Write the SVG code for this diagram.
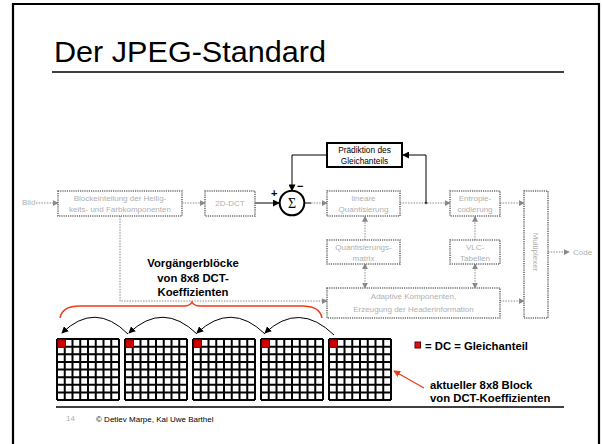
<svg xmlns="http://www.w3.org/2000/svg" width="602" height="444" viewBox="0 0 602 444">
<style>
.gbox{fill:#fff;stroke:#6e6e6e;stroke-width:1.6;stroke-dasharray:1.2 1}
.gtxt{font-family:"Liberation Sans",Arial,sans-serif;font-size:8px;fill:#b0b0b0;text-anchor:middle}
.gline{fill:none;stroke:#8a8a8a;stroke-width:1;stroke-dasharray:1.5 1.2}
.bline{fill:none;stroke:#000;stroke-width:1}
.btxt{font-family:"Liberation Sans",Arial,sans-serif;font-weight:bold;font-size:11.3px;fill:#000}
</style>
<defs>
<marker id="ga" viewBox="0 0 8 8" refX="7" refY="4" markerWidth="6" markerHeight="6" orient="auto" markerUnits="userSpaceOnUse"><path d="M0 0L8 4L0 8z" fill="#888"/></marker>
<marker id="gas" viewBox="0 0 8 8" refX="1" refY="4" markerWidth="6" markerHeight="6" orient="auto" markerUnits="userSpaceOnUse"><path d="M8 0L0 4L8 8z" fill="#888"/></marker>
<marker id="ba" viewBox="0 0 8 8" refX="7" refY="4" markerWidth="7" markerHeight="7" orient="auto" markerUnits="userSpaceOnUse"><path d="M0 0L8 4L0 8z" fill="#000"/></marker>
<marker id="ra" viewBox="0 0 8 8" refX="7" refY="4" markerWidth="7" markerHeight="7" orient="auto" markerUnits="userSpaceOnUse"><path d="M0 0L8 4L0 8z" fill="#f03a1a"/></marker>
<g id="grid">
<rect width="62" height="61" fill="#fff"/>
<path d="M0 0V61M7.75 0V61M15.5 0V61M23.25 0V61M31 0V61M38.75 0V61M46.5 0V61M54.25 0V61M62 0V61M0 0H62M0 7.625H62M0 15.25H62M0 22.875H62M0 30.5H62M0 38.125H62M0 45.75H62M0 53.375H62M0 61H62" stroke="#000" stroke-width="2" fill="none"/>
<rect x="0.8" y="0.8" width="7.6" height="7.4" fill="#d40000" stroke="#700" stroke-width="0.8"/>
</g>
</defs>
<rect width="602" height="444" fill="#fff"/>
<!-- slide frame -->
<path d="M13 446V4H599V446" fill="none" stroke="#000" stroke-width="2.2"/>
<text x="54" y="62" font-family="Liberation Sans,Arial,sans-serif" font-size="29" fill="#000" textLength="272" lengthAdjust="spacingAndGlyphs">Der JPEG-Standard</text>
<line x1="52" y1="72" x2="564" y2="72" stroke="#000" stroke-width="1.3"/>

<!-- connectors -->
<g id="connectors">
<text x="22" y="205" font-family="Liberation Sans,Arial,sans-serif" font-size="8" fill="#b0b0b0">Bild</text>
<line class="gline" x1="36" y1="203" x2="58" y2="203" marker-end="url(#ga)"/>
<line class="gline" x1="182" y1="203" x2="205" y2="203" marker-end="url(#ga)"/>
<line class="bline" x1="255" y1="203" x2="279" y2="203" marker-end="url(#ba)"/>
<line class="bline" x1="304" y1="203" x2="311" y2="203"/>
<line class="gline" x1="311" y1="203" x2="327" y2="203" marker-end="url(#ga)"/>
<line class="gline" x1="400" y1="203" x2="450" y2="203" marker-end="url(#ga)"/>
<circle cx="426" cy="203" r="1.3" fill="#555"/>
<line class="gline" x1="500" y1="203" x2="524" y2="203" marker-end="url(#ga)"/>
<line class="gline" x1="548" y1="252" x2="569" y2="252" marker-end="url(#ga)"/>
<text x="573" y="255" font-family="Liberation Sans,Arial,sans-serif" font-size="8" fill="#b0b0b0">Code</text>
<!-- feedback -->
<path class="bline" d="M426 203V155H403" marker-end="url(#ba)"/>
<path class="bline" d="M327 155H292V190.5" marker-end="url(#ba)"/>
<text x="271" y="197" font-family="Liberation Sans,Arial,sans-serif" font-weight="bold" font-size="11" fill="#000">+</text>
<text x="297" y="190" font-family="Liberation Sans,Arial,sans-serif" font-weight="bold" font-size="11" fill="#000">−</text>
<!-- verticals -->
<line class="gline" x1="365" y1="240" x2="365" y2="216.5" marker-end="url(#ga)"/>
<line class="gline" x1="365" y1="264" x2="365" y2="288" marker-start="url(#gas)" marker-end="url(#ga)"/>
<line class="gline" x1="475" y1="240" x2="475" y2="216.5" marker-end="url(#ga)"/>
<line class="gline" x1="475" y1="264" x2="475" y2="288" marker-start="url(#gas)" marker-end="url(#ga)"/>
<path class="gline" d="M120 216V301H327" marker-end="url(#ga)"/>
<line class="gline" x1="500" y1="301" x2="524" y2="301" marker-end="url(#ga)"/>
<!-- brace and block arrows -->
<path d="M60 318Q62 306 80 306L184 306Q190 306 192 302Q194 306 200 306L302 306Q320 306 322 318" fill="none" stroke="#f03a1a" stroke-width="1.5"/>
<path d="M128 334Q95 301 62 333" fill="none" stroke="#000" stroke-width="1" marker-end="url(#ba)"/>
<path d="M197 334Q163 301 129 333" fill="none" stroke="#000" stroke-width="1" marker-end="url(#ba)"/>
<path d="M265 334Q231 301 197 333" fill="none" stroke="#000" stroke-width="1" marker-end="url(#ba)"/>
<path d="M334 335Q299 301 265 333" fill="none" stroke="#000" stroke-width="1" marker-end="url(#ba)"/>
<line x1="424" y1="388" x2="394" y2="371" stroke="#f03a1a" stroke-width="1.3" marker-end="url(#ra)"/>
</g>

<!-- nodes -->
<g id="blockeinteilung">
<rect class="gbox" x="58" y="191" width="124" height="25"/>
<text class="gtxt" x="120" y="201">Blockeinteilung der Hellig-</text>
<text class="gtxt" x="120" y="212">keits- und Farbkomponenten</text>
</g>
<g id="dct">
<rect class="gbox" x="205" y="191" width="50" height="25"/>
<text class="gtxt" x="230" y="206">2D-DCT</text>
</g>
<g id="summe">
<circle cx="292" cy="203" r="12.3" fill="#fff" stroke="#000" stroke-width="2"/>
<text x="292" y="208" font-family="Liberation Serif,Times New Roman,serif" font-size="14" text-anchor="middle" fill="#000">Σ</text>
</g>
<g id="praediktion">
<rect x="327" y="143" width="75" height="24" fill="#fff" stroke="#000" stroke-width="2"/>
<text x="364.5" y="153" font-family="Liberation Sans,Arial,sans-serif" font-size="8.3" text-anchor="middle" fill="#000">Prädiktion des</text>
<text x="364.5" y="164" font-family="Liberation Sans,Arial,sans-serif" font-size="8.3" text-anchor="middle" fill="#000">Gleichanteils</text>
</g>
<g id="quantisierung">
<rect class="gbox" x="327" y="191" width="73" height="25"/>
<text class="gtxt" x="363.5" y="201">lineare</text>
<text class="gtxt" x="363.5" y="212">Quantisierung</text>
</g>
<g id="entropie">
<rect class="gbox" x="450" y="191" width="50" height="25"/>
<text class="gtxt" x="475" y="201">Entropie-</text>
<text class="gtxt" x="475" y="212">codierung</text>
</g>
<g id="quantmatrix">
<rect class="gbox" x="327" y="240" width="73" height="24"/>
<text class="gtxt" x="363.5" y="250">Quantisierungs-</text>
<text class="gtxt" x="363.5" y="261">matrix</text>
</g>
<g id="vlc">
<rect class="gbox" x="450" y="240" width="50" height="24"/>
<text class="gtxt" x="475" y="250">VLC-</text>
<text class="gtxt" x="475" y="261">Tabellen</text>
</g>
<g id="adaptiv">
<rect class="gbox" x="327" y="288" width="173" height="30"/>
<text class="gtxt" x="413.5" y="299">Adaptive Komponenten,</text>
<text class="gtxt" x="413.5" y="312">Erzeugung der Headerinformation</text>
</g>
<g id="multiplexer">
<rect class="gbox" x="524" y="191" width="24" height="127"/>
<text class="gtxt" transform="translate(533 252) rotate(90)">Multiplexer</text>
</g>

<g id="vorgaenger-label">
<text class="btxt" x="193" y="267" text-anchor="middle">Vorgängerblöcke</text>
<text class="btxt" x="193" y="281.5" text-anchor="middle">von 8x8 DCT-</text>
<text class="btxt" x="193" y="296" text-anchor="middle">Koeffizienten</text>
</g>
<g id="block1"><use href="#grid" x="57" y="339"/></g>
<g id="block2"><use href="#grid" x="125" y="339"/></g>
<g id="block3"><use href="#grid" x="193" y="339"/></g>
<g id="block4"><use href="#grid" x="261" y="339"/></g>
<g id="block5"><use href="#grid" x="329" y="339"/></g>
<g id="legend">
<rect x="415" y="342" width="5.5" height="6" fill="#e01010" stroke="#600" stroke-width="1"/>
<text class="btxt" x="425" y="350">= DC = Gleichanteil</text>
</g>
<g id="current-label">
<text class="btxt" x="430" y="389">aktueller 8x8 Block</text>
<text class="btxt" x="430" y="402">von DCT-Koeffizienten</text>
</g>

<line x1="56" y1="407" x2="564" y2="407" stroke="#000" stroke-width="1.3"/>
<text x="66" y="421" font-family="Liberation Sans,Arial,sans-serif" font-size="8" fill="#b0b0b0">14</text>
<text x="96" y="422" font-family="Liberation Sans,Arial,sans-serif" font-size="8" fill="#000">© Detlev Marpe, Kai Uwe Barthel</text>
</svg>
